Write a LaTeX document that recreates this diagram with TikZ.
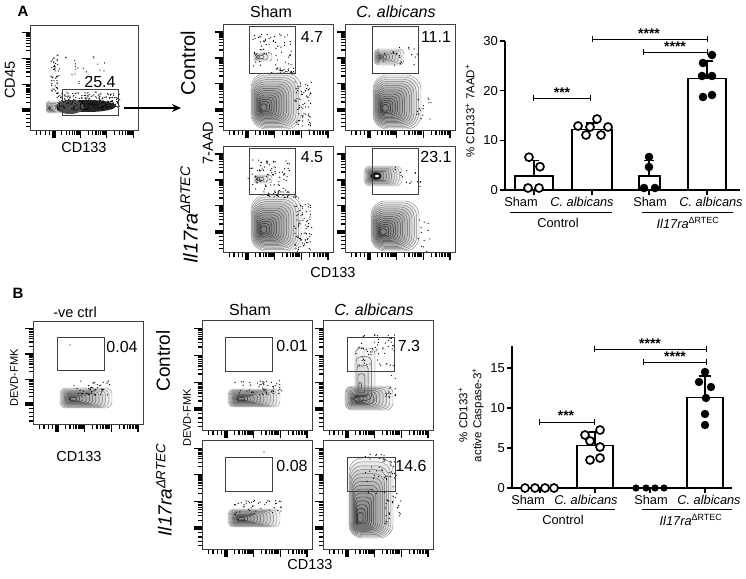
\documentclass[tikz,border=0pt]{standalone}
\usepackage{fontspec}
\setmainfont{Liberation Sans}
\usetikzlibrary{arrows.meta}

\newcommand\fticks[2]{%
  \foreach \t/\l in {0.03/4.5,0.07/4.5,0.11/4.5,0.15/4.5,0.19/8,0.264/4.5,0.307/4.5,0.337/4.5,0.361/4.5,0.381/4.5,0.397/4.5,0.411/4.5,0.424/4.5,0.435/8,0.509/4.5,0.552/4.5,0.582/4.5,0.606/4.5,0.626/4.5,0.642/4.5,0.656/4.5,0.669/4.5,0.68/8,0.754/4.5,0.797/4.5,0.827/4.5,0.851/4.5,0.871/4.5,0.887/4.5,0.901/4.5,0.914/4.5,0.925/8}{%
    \draw[line width=1.2pt] (0,{#2*(1-\t)}) -- ++(-\l,0);
    \draw[line width=1.2pt] ({#1*(\t+0.03)},#2) -- ++(0,\l);
  }
  \draw[line width=4pt] (0,{#2*0.81}) -- ++(-8,0);
  \draw[line width=4pt] ({#1*0.22},#2) -- ++(0,8);
  \draw[line width=0.9pt, black!75] (0,0) rectangle (#1,#2);
}
% cx cy rx ry n startshade vshift
\newcommand\cblob[7]{%
  \foreach \k in {0,...,#5}{%
    \pgfmathsetmacro\s{1-0.88*\k/#5}%
    \pgfmathsetmacro\cxx{#1-#3*(1-\s)*0.55}%
    \pgfmathsetmacro\cyy{#2+#4*(1-\s)*#7}%
    \pgfmathsetmacro\rxx{#3*\s}%
    \pgfmathsetmacro\ryy{#4*\s}%
    \pgfmathsetmacro\rr{0.6*min(\rxx,\ryy)}%
    \pgfmathtruncatemacro\cc{#6+\k*(92-#6)/#5}%
    \draw[black!\cc, line width=0.45pt, fill=black, fill opacity=0.045, rounded corners=\rr pt] (\cxx-\rxx,\cyy-\ryy) rectangle (\cxx+\rxx,\cyy+\ryy);
  }%
}
% seed N cx cy rx ry
\newcommand\sdots[6]{%
  \pgfmathsetseed{#1}%
  \foreach \k in {1,...,#2}{%
    \pgfmathsetmacro\px{#3+#5*rand}%
    \pgfmathsetmacro\py{#4+#6*rand}%
    \fill (\px,\py) circle (0.65);
  }%
}
\newcommand\sigbr[3]{%
  \draw[line width=0.9pt] (#1,#3) -- (#2,#3);
  \draw[line width=0.9pt] (#1,#3-3) -- (#1,#3+3);
  \draw[line width=0.9pt] (#2,#3-3) -- (#2,#3+3);
}

\tikzset{
  gate/.style={draw=black!75, line width=0.9pt},
  gnum/.style={font=\fontsize{16}{16}\selectfont, inner sep=0pt},
  head/.style={font=\fontsize{16}{16}\selectfont, inner sep=0pt},
  rowlab/.style={font=\fontsize{20}{20}\selectfont, inner sep=0pt, rotate=90},
  axlab/.style={font=\fontsize{14.5}{14.5}\selectfont, inner sep=0pt},
  smlab/.style={font=\fontsize{11}{11}\selectfont, inner sep=0pt},
  catlab/.style={font=\fontsize{12.8}{12.8}\selectfont, inner sep=0pt},
  ticklab/.style={font=\fontsize{13}{13}\selectfont, inner sep=0pt, anchor=east},
  stars/.style={font=\fontsize{14}{14}\selectfont\bfseries, inner sep=0pt},
  barbox/.style={draw=black, fill=white, line width=1.4pt},
  errb/.style={line width=1.4pt},
  opent/.style={draw=black, fill=white, line width=1.7pt},
  filt/.style={fill=black},
  panel/.style={font=\fontsize{15}{15}\selectfont\bfseries, inner sep=0pt}
}

\begin{document}
\begin{tikzpicture}[x=1pt,y=-1pt]
\useasboundingbox (0,0) rectangle (746,578);
\fill[white] (0,0) rectangle (746,578);

% ================= PANEL A =================
\node[panel] (pA) at (23,11) {A};

\begin{scope}[shift={(30,25)}]
  \cblob{24}{82}{8}{6}{5}{40}{0.2}
  \fill[black!85] (58,81) ellipse (28 and 6);
  \fill[black!70] (40,82) ellipse (14 and 7);
  \sdots{8}{45}{24}{50}{4}{20}
  \sdots{9}{220}{58}{76}{32}{9}
  \sdots{10}{25}{50}{45}{28}{15}
  \draw[gate] (32,64) rectangle (88,90);
  \fticks{108}{105}
\end{scope}
\node[gnum] (n254) at (100,82) {25.4};
\node[axlab, rotate=90] (lcd45) at (10,80) {CD45};
\node[axlab] (lcd133a) at (84,148) {CD133};
\coordinate (arrS) at (124,108);
\coordinate (arrE) at (181,108);
\draw[line width=1.5pt, -{Stealth[length=9pt,width=8pt]}] (arrS) -- (arrE);

\node[head] (hsA) at (271,12) {Sham};
\node[head] (hcA) at (396,12) {\itshape C. albicans};
\node[rowlab] (rcA) at (188,63) {Control};
\node[rowlab] (rkA) at (189,215) {\itshape Il17ra\textsuperscript{ΔRTEC}};
\node[axlab, rotate=90] (l7aad) at (208,143) {7-AAD};
\node[axlab] (lcd133b) at (333,273) {CD133};

% TL
\begin{scope}[shift={(223,24)}]
  \cblob{53}{77}{25}{28}{14}{40}{0.25}
  \cblob{40}{33}{9}{4}{3}{45}{0}
  \sdots{1}{60}{48}{27}{21}{17}
  \sdots{2}{70}{80}{82}{9}{24}
  \sdots{21}{30}{60}{47}{14}{3}
  \draw[gate] (26,2) rectangle (72,49);
  \fticks{110}{106}
\end{scope}
\node[gnum] (n47) at (312,37) {4.7};
% TR
\begin{scope}[shift={(345,24)}]
  \cblob{52}{78}{24}{27}{14}{45}{0.25}
  \cblob{44}{33}{15}{8}{7}{45}{0}
  \sdots{3}{20}{55}{33}{18}{10}
  \sdots{13}{15}{78}{88}{8}{15}
  \draw[gate] (27,2) rectangle (73,49);
  \fticks{110}{106}
\end{scope}
\node[gnum] (n111) at (436,37) {11.1};
% BL
\begin{scope}[shift={(223,146)}]
  \cblob{53}{77}{25}{28}{14}{40}{0.25}
  \cblob{40}{33}{9}{4}{3}{45}{0}
  \sdots{4}{75}{46}{30}{21}{16}
  \sdots{5}{75}{80}{82}{9}{24}
  \sdots{22}{35}{60}{48}{16}{4}
  \draw[gate] (26,2) rectangle (72,48);
  \fticks{110}{106}
\end{scope}
\node[gnum] (n45) at (312,157) {4.5};
% BR
\begin{scope}[shift={(345,146)}]
  \cblob{50}{80}{24}{25}{14}{45}{0.25}
  \cblob{38}{30}{19}{10}{10}{35}{0}
  \fill[black!90] (31,30) ellipse (5.5 and 4);
  \fill[white] (32,30) ellipse (2 and 1.2);
  \sdots{6}{15}{62}{32}{14}{12}
  \sdots{16}{12}{78}{90}{8}{18}
  \draw[gate] (27,2) rectangle (73,48);
  \fticks{110}{106}
\end{scope}
\node[gnum] (n231) at (436,157) {23.1};

% --- bar chart A
\draw[line width=1.4pt] (505,41) -- (505,190) -- (740,190);
\foreach \y in {190,140.3,90.7,41}{\draw[line width=1.4pt] (505,\y) -- (500,\y);}
\node[ticklab] (ta0) at (498,190) {0};
\node[ticklab] (ta10) at (498,140.3) {10};
\node[ticklab] (ta20) at (498,90.7) {20};
\node[ticklab] (ta30) at (498,41) {30};
\foreach \x in {534,592,649,707}{\draw[line width=1.2pt] (\x,190) -- (\x,195);}
\node[font=\fontsize{11.5}{11.5}\selectfont, inner sep=0pt, rotate=90] (yA) at (470,111) {\% CD133\textsuperscript{+} 7AAD\textsuperscript{+}};
\draw[barbox] (515,190) rectangle (553,176.1);
\draw[errb] (534,176.1) -- (534,160.2) (529,160.2) -- (539,160.2);
\foreach \x/\y in {529/157.2,540/166.7,528/188,539/188}{\draw[opent] (\x,\y) circle (4);}
\draw[barbox] (572,190) rectangle (612,129.4);
\draw[errb] (592,129.4) -- (592,122.9) (586,122.9) -- (598,122.9);
\foreach \x/\y in {578/126,597/119,608/127,586/135,601/135,590/127}{\draw[opent] (\x,\y) circle (4);}
\draw[barbox] (639,190) rectangle (660,176.1);
\draw[errb] (649,176.1) -- (649,160.2) (644,160.2) -- (654,160.2);
\foreach \x/\y in {649/157,649/167,644/188,655/188}{\fill[filt] (\x,\y) circle (4.3);}
\draw[barbox] (688,190) rectangle (726,78.2);
\draw[errb] (707,78.2) -- (707,60.9) (701,60.9) -- (713,60.9);
\foreach \x/\y in {712/55,703/63,712/76,702/76,703/97,712/95}{\fill[filt] (\x,\y) circle (4.3);}
\sigbr{533}{590}{98}
\node[stars] (sa1) at (562,93) {***};
\sigbr{592}{707}{39}
\node[stars] (sa2) at (649,34) {****};
\sigbr{643}{707}{52}
\node[stars] (sa3) at (675,47) {****};
\node[catlab] (ca1) at (521,202) {Sham};
\node[catlab] (ca2) at (582,202) {\itshape C. albicans};
\node[catlab] (ca3) at (650,202) {Sham};
\node[catlab] (ca4) at (711,202) {\itshape C. albicans};
\coordinate (gla1) at (510,212); \coordinate (gla2) at (612,212);
\coordinate (gla3) at (642,212); \coordinate (gla4) at (733,212);
\draw[line width=0.8pt] (gla1) -- (gla2) (gla3) -- (gla4);
\node[catlab] (gca) at (558,223) {Control};
\node[catlab] (gka) at (688,223) {\itshape Il17ra\upshape\textsuperscript{ΔRTEC}};

% ================= PANEL B =================
\node[panel] (pB) at (18,293) {B};
\node[axlab] (hneg) at (75,312) {-ve ctrl};
\begin{scope}[shift={(33,321)}]
  \cblob{53}{77}{26}{10}{11}{40}{0.1}
  \sdots{7}{45}{60}{67}{20}{7}
  \fill (37,24) circle (0.6);
  \draw[gate] (24,16) rectangle (71,49);
  \fticks{110}{103}
\end{scope}
\node[gnum] (n004) at (122,347) {0.04};
\node[smlab, rotate=90] (ldevd1) at (14,378) {DEVD-FMK};
\node[axlab] (lcd133c) at (79,457) {CD133};

\node[head] (hsB) at (250,310) {Sham};
\node[head] (hcB) at (374,310) {\itshape C. albicans};
\node[font=\fontsize{19}{19}\selectfont, inner sep=0pt, rotate=90] (rcB) at (163,361) {Control};
\node[font=\fontsize{19}{19}\selectfont, inner sep=0pt, rotate=90] (rkB) at (164,490) {\itshape Il17ra\textsuperscript{ΔRTEC}};
\node[smlab, rotate=90] (ldevd2) at (187,418) {DEVD-FMK};
\node[axlab] (lcd133d) at (310,564) {CD133};

% B TL
\begin{scope}[shift={(202,320)}]
  \cblob{52}{78}{26}{9}{11}{40}{0.1}
  \sdots{11}{55}{56}{68}{24}{8}
  \draw[gate] (23,17) rectangle (70,51);
  \fticks{110}{110}
\end{scope}
\node[gnum] (n001) at (292,346) {0.01};
% B TR
\begin{scope}[shift={(323,320)}]
  \cblob{42}{56}{10}{28}{4}{55}{0.4}
  \cblob{46}{78}{24}{12}{10}{45}{0.1}
  \draw[black!50, line width=0.45pt, rounded corners=3pt] (34,27) rectangle (41,47);
  \sdots{12}{55}{52}{30}{20}{16}
  \sdots{14}{15}{68}{66}{6}{12}
  \draw[gate] (24,17) rectangle (71,51);
  \fticks{110}{110}
\end{scope}
\node[gnum] (n73) at (409,346) {7.3};
% B BL
\begin{scope}[shift={(202,440)}]
  \cblob{52}{78}{26}{9}{11}{40}{0.1}
  \sdots{15}{45}{56}{68}{24}{8}
  \fill (62,12) circle (0.6);
  \draw[gate] (23,17) rectangle (70,51);
  \fticks{110}{109}
\end{scope}
\node[gnum] (n008) at (292,466) {0.08};
% B BR
\begin{scope}[shift={(323,440)}]
  \cblob{48}{58}{22}{40}{14}{45}{0.55}
  \fill[black!55] (40,88) ellipse (10 and 4);
  \sdots{17}{55}{58}{34}{16}{20}
  \sdots{18}{25}{70}{70}{8}{16}
  \draw[gate] (24,17) rectangle (72,51);
  \fticks{110}{109}
\end{scope}
\node[gnum] (n146) at (411,466) {14.6};

% --- bar chart B
\draw[line width=1.4pt] (512,346) -- (512,488) -- (732,488);
\foreach \y in {488,448,408,368}{\draw[line width=1.4pt] (512,\y) -- (507,\y);}
\node[ticklab] (tb0) at (505,488) {0};
\node[ticklab] (tb5) at (505,448) {5};
\node[ticklab] (tb10) at (505,408) {10};
\node[ticklab] (tb15) at (505,368) {15};
\foreach \x in {540,595,650,705}{\draw[line width=1.2pt] (\x,488) -- (\x,493);}
\node[font=\fontsize{11.5}{11.5}\selectfont, inner sep=0pt, rotate=90] (yB1) at (463,415) {\% CD133\textsuperscript{+}};
\node[font=\fontsize{11.5}{11.5}\selectfont, inner sep=0pt, rotate=90] (yB2) at (478,415) {active Caspase-3\textsuperscript{+}};
\foreach \x in {525,535,545,554}{\draw[opent] (\x,488) circle (4);}
\draw[barbox] (577,488) rectangle (613,445.6);
\draw[errb] (595,445.6) -- (595,432) (589,432) -- (601,432);
\foreach \x/\y in {585/435,600/430,590/441,600/447,590/460,600/458}{\draw[opent] (\x,\y) circle (4);}
\foreach \x in {636,646,655,664}{\fill[filt] (\x,488) circle (3.6);}
\draw[barbox] (687,488) rectangle (723,397.6);
\draw[errb] (705,397.6) -- (705,376) (699,376) -- (711,376);
\foreach \x/\y in {705/372,699/382,711/387,706/398,705/414,705/425}{\fill[filt] (\x,\y) circle (4.2);}
\sigbr{539}{594}{422}
\node[stars] (sb1) at (566,416) {***};
\sigbr{594}{706}{349}
\node[stars] (sb2) at (650,344) {****};
\sigbr{643}{706}{362}
\node[stars] (sb3) at (675,357) {****};
\node[catlab] (cb1) at (528,500) {Sham};
\node[catlab] (cb2) at (586,500) {\itshape C. albicans};
\node[catlab] (cb3) at (651,500) {Sham};
\node[catlab] (cb4) at (709,500) {\itshape C. albicans};
\coordinate (glb1) at (517,509); \coordinate (glb2) at (615,509);
\coordinate (glb3) at (642,509); \coordinate (glb4) at (732,509);
\draw[line width=0.8pt] (glb1) -- (glb2) (glb3) -- (glb4);
\node[catlab] (gcb) at (563,520) {Control};
\node[catlab] (gkb) at (691,520) {\itshape Il17ra\upshape\textsuperscript{ΔRTEC}};
\end{tikzpicture}
\end{document}
